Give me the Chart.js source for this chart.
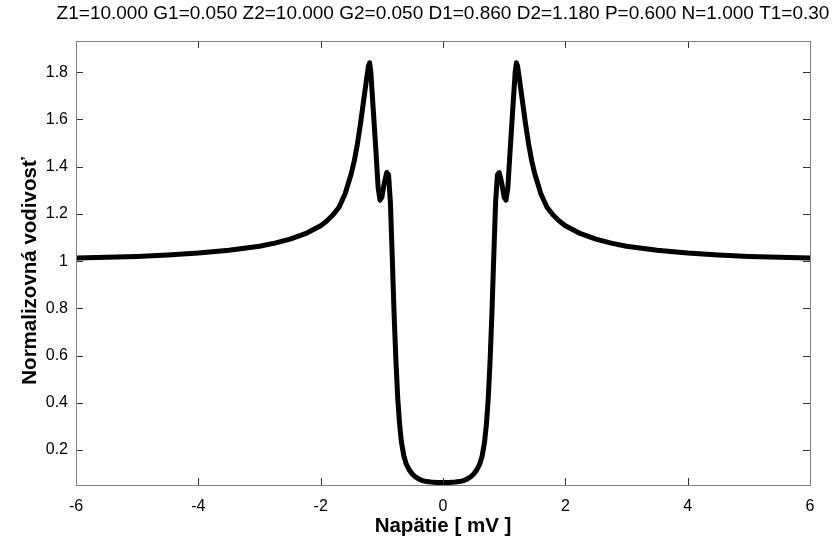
<!DOCTYPE html>
<html>
<head>
<meta charset="utf-8">
<script src="https://cdn.jsdelivr.net/npm/chart.js@4/dist/chart.umd.min.js"></script>
<style>
  html, body { margin: 0; padding: 0; background: #fff; }
  #wrap { width: 836px; height: 540px; }
</style>
</head>
<body>
<div id="wrap"><canvas id="c" width="836" height="540"></canvas></div>
<script>
const chartTitle = "Z1=10.000 G1=0.050 Z2=10.000 G2=0.050 D1=0.860 D2=1.180 P=0.600 N=1.000 T1=0.30";
const xAxisTitle = "Napätie [ mV ]";
const yAxisTitle = "Normalizovná vodivosť";
const xTicks = [-6, -4, -2, 0, 2, 4, 6];
const yTicks = [0.2, 0.4, 0.6, 0.8, 1.0, 1.2, 1.4, 1.6, 1.8];

const voltage = [
  -6.0, -5.5, -5.0, -4.5, -4.0, -3.5, -3.0, -2.75, -2.5, -2.25, -2.0, -1.9, -1.8, -1.7, -1.6,
  -1.5, -1.45, -1.4, -1.35, -1.3, -1.25, -1.22, -1.2, -1.18, -1.15, -1.1, -1.06, -1.03, -1.0,
  -0.96, -0.92, -0.89, -0.86, -0.83, -0.80, -0.77, -0.74, -0.71, -0.68, -0.64, -0.60, -0.55,
  -0.50, -0.45, -0.40, -0.35, -0.30, -0.20, -0.10,
  0.0,
  0.10, 0.20, 0.30, 0.35, 0.40, 0.45, 0.50, 0.55, 0.60, 0.64, 0.68, 0.71, 0.74, 0.77, 0.80,
  0.83, 0.86, 0.89, 0.92, 0.96, 1.0, 1.03, 1.06, 1.1, 1.15, 1.18, 1.2, 1.22, 1.25, 1.3, 1.35,
  1.4, 1.45, 1.5, 1.6, 1.7, 1.8, 1.9, 2.0, 2.25, 2.5, 2.75, 3.0, 3.5, 4.0, 4.5, 5.0, 5.5, 6.0
];
const conductance = [
  1.013, 1.016, 1.020, 1.026, 1.034, 1.046, 1.063, 1.076, 1.093, 1.116, 1.150, 1.170, 1.195, 1.228, 1.285,
  1.370, 1.425, 1.495, 1.580, 1.675, 1.770, 1.825, 1.840, 1.800, 1.680, 1.480, 1.310, 1.258, 1.270,
  1.330, 1.375, 1.365, 1.250, 1.020, 0.780, 0.580, 0.420, 0.310, 0.235, 0.175, 0.140, 0.115,
  0.098, 0.086, 0.078, 0.072, 0.068, 0.065, 0.063,
  0.063,
  0.063, 0.065, 0.068, 0.072, 0.078, 0.086, 0.098, 0.115, 0.140, 0.175, 0.235, 0.310, 0.420, 0.580, 0.780,
  1.020, 1.250, 1.365, 1.375, 1.330, 1.270, 1.258, 1.310, 1.480, 1.680, 1.800, 1.840, 1.825, 1.770, 1.675, 1.580,
  1.495, 1.425, 1.370, 1.285, 1.228, 1.195, 1.170, 1.150, 1.116, 1.093, 1.076, 1.063, 1.046, 1.034, 1.026, 1.020, 1.016, 1.013
];

const points = voltage.map((v, i) => ({ x: v, y: conductance[i] }));

const boxTicks = {
  id: 'boxTicks',
  afterDatasetsDraw(chart) {
    const { ctx, chartArea: a, scales: { x, y } } = chart;
    ctx.save();
    ctx.lineWidth = 1;
    ctx.strokeStyle = '#333';
    const L = 7;
    ctx.beginPath();
    xTicks.forEach(v => {
      const px = Math.round(x.getPixelForValue(v)) + 0.5;
      ctx.moveTo(px, a.bottom); ctx.lineTo(px, a.bottom - L);
      ctx.moveTo(px, a.top); ctx.lineTo(px, a.top + L);
    });
    yTicks.forEach(v => {
      const py = Math.round(y.getPixelForValue(v)) + 0.5;
      ctx.moveTo(a.left, py); ctx.lineTo(a.left + L, py);
      ctx.moveTo(a.right, py); ctx.lineTo(a.right - L, py);
    });
    ctx.stroke();
    ctx.strokeStyle = '#808080';
    ctx.strokeRect(Math.round(a.left) + 0.5, Math.round(a.top) + 0.5,
                   Math.round(a.right - a.left), Math.round(a.bottom - a.top));
    ctx.fillStyle = '#000';
    ctx.textAlign = 'center';
    ctx.textBaseline = 'middle';
    // chart title, centred over the plot area
    ctx.font = '19px "Liberation Sans"';
    ctx.fillText(chartTitle, (a.left + a.right) / 2, 14);
    // y-axis title
    ctx.font = 'bold 20.5px "Liberation Sans"';
    ctx.translate(30, (a.top + a.bottom) / 2 + 8);
    ctx.rotate(-Math.PI / 2);
    ctx.fillText(yAxisTitle, 0, 0);
    ctx.restore();
  }
};

new Chart(document.getElementById('c'), {
  type: 'line',
  data: {
    datasets: [{
      data: points,
      borderColor: '#000',
      borderWidth: 5,
      pointRadius: 0,
      tension: 0,
      fill: false,
      borderJoinStyle: 'round',
      borderCapStyle: 'round'
    }]
  },
  options: {
    responsive: false,
    animation: false,
    layout: { padding: { left: 0, right: 26, top: 41, bottom: 0 } },
    plugins: {
      legend: { display: false },
      tooltip: { enabled: false },
      title: { display: false }
    },
    scales: {
      x: {
        type: 'linear',
        min: -6, max: 6,
        afterFit: s => { s.height = 55; },
        afterBuildTicks: s => { s.ticks = xTicks.map(v => ({ value: v })); },
        grid: { display: false, drawTicks: false },
        border: { display: false },
        ticks: {
          color: '#000',
          padding: 12,
          font: { family: 'Liberation Sans', size: 16 },
          callback: v => String(v)
        },
        title: {
          display: true,
          text: xAxisTitle,
          color: '#000',
          font: { family: 'Liberation Sans', size: 20.5, weight: 'bold', lineHeight: 1.2 },
          padding: { top: 0, bottom: 1 }
        }
      },
      y: {
        type: 'linear',
        min: 0.052, max: 1.932,
        afterFit: s => { s.width = 76; },
        afterBuildTicks: s => { s.ticks = yTicks.map(v => ({ value: v })); },
        grid: { display: false, drawTicks: false },
        border: { display: false },
        ticks: {
          color: '#000',
          padding: 8,
          font: { family: 'Liberation Sans', size: 16 },
          callback: v => (Math.abs(v - 1) < 1e-9 ? '1' : Number(v).toFixed(1))
        },
        title: { display: false }
      }
    }
  },
  plugins: [boxTicks]
});
</script>
</body>
</html>
